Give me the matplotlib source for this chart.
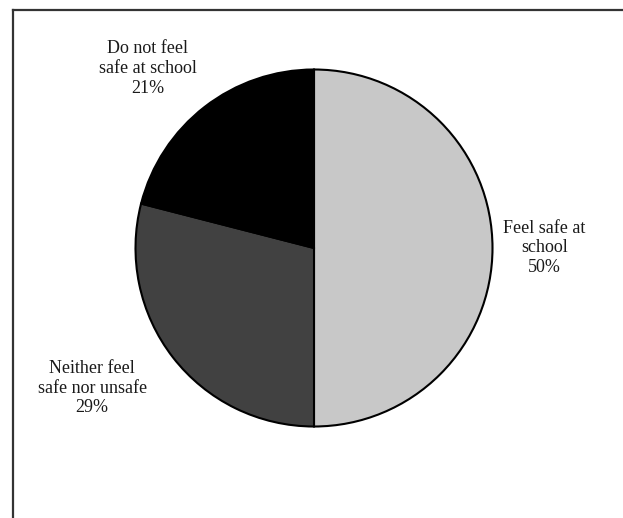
import numpy as np
import matplotlib
matplotlib.use('Agg')
import matplotlib.pyplot as plt
from matplotlib.lines import Line2D

# data
labels = ['Feel safe at\nschool', 'Neither feel\nsafe nor unsafe', 'Do not feel\nsafe at school']
shares = [50, 29, 21]
colors = ['#c8c8c8', '#414141', '#000000']

# label placement (radius multiple, angle shift in deg) per slice
label_dist = [1.29, 1.47, 1.37]
label_shift = [0, -5.5, 5]

plt.rcParams['font.family'] = ['Liberation Serif', 'DejaVu Serif']

W, H = 623, 518
fig = plt.figure(figsize=(W / 100, H / 100), dpi=100)
ax = fig.add_axes([0, 0, 1, 1])

wedges, _ = ax.pie(shares, colors=colors, startangle=90, counterclock=False,
                   wedgeprops=dict(edgecolor='black', linewidth=1.5))

# centre at pixel (314, 248), radius 178.5 px
cx, cy, r = 314, 248, 178.5
ax.set_xlim(-cx / r, (W - cx) / r)
ax.set_ylim(-(H - cy) / r, cy / r)
ax.set_aspect('equal')
ax.axis('off')

for w, lab, val, d, s in zip(wedges, labels, shares, label_dist, label_shift):
    ang = np.deg2rad((w.theta1 + w.theta2) / 2 + s)
    ax.text(d * np.cos(ang), d * np.sin(ang), f'{lab}\n{val}%',
            ha='center', va='center', fontsize=13, color='#1a1a1a', linespacing=1.2)

# frame (cropped on right and bottom)
fx, fy = 13 / W, 1 - 10 / H
fig.add_artist(Line2D([fx, fx], [0, fy], color='#333333', lw=1.6, transform=fig.transFigure))
fig.add_artist(Line2D([fx, 1], [fy, fy], color='#333333', lw=1.6, transform=fig.transFigure))

plt.savefig('out.png', dpi=100)
plt.close()
